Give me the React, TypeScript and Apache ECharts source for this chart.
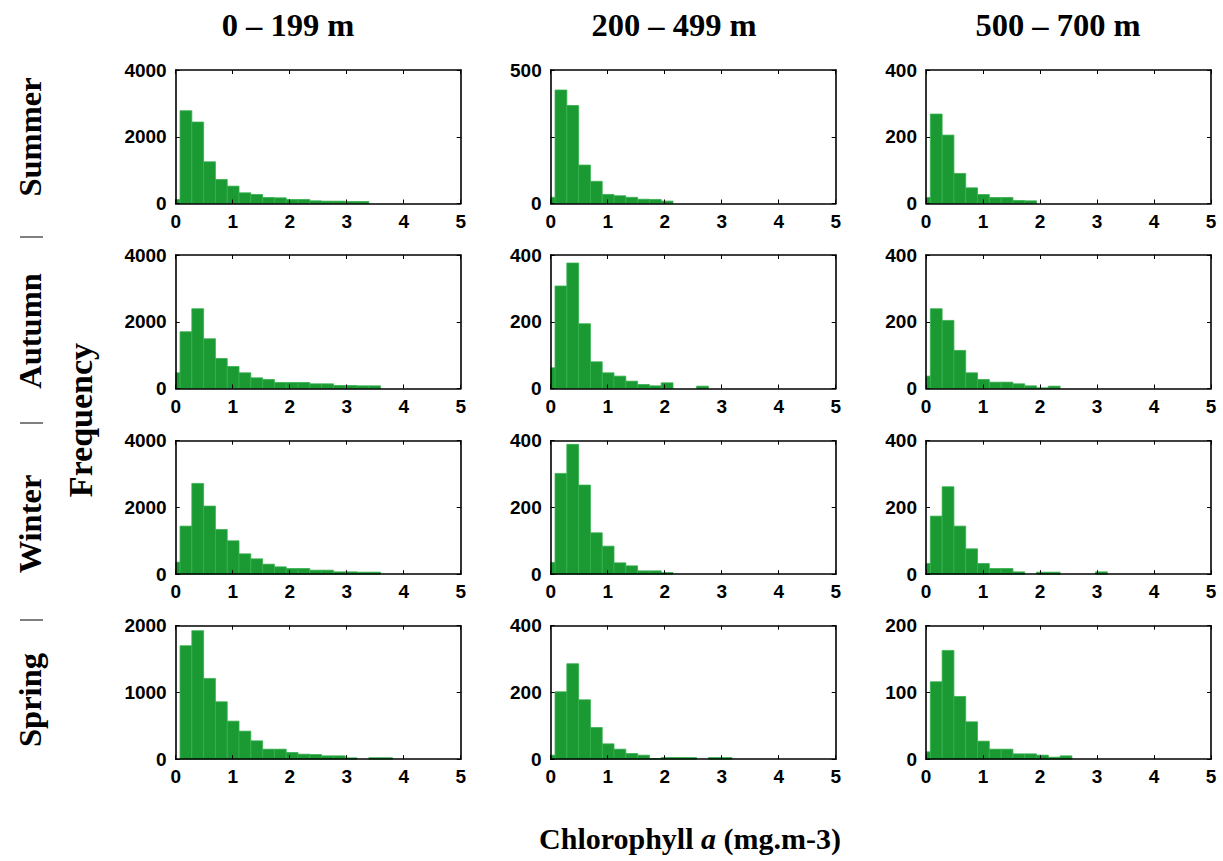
import React, { useEffect, useRef } from "react";
import * as echarts from "echarts";

// ---------- data ----------
const depthTitles = ["0 – 199 m", "200 – 499 m", "500 – 700 m"];
const seasons = ["Summer", "Autumn", "Winter", "Spring"];
const xLabel = "Chlorophyll a (mg.m-3)";
const yLabel = "Frequency";

// histogram bins (mg.m-3)
const binWidth = 0.207;
const firstEdge = -0.131;
const xTicks = [0, 1, 2, 3, 4, 5];

// y-axis max per panel [row][col]
const yMax = [
  [4000, 500, 400],
  [4000, 400, 400],
  [4000, 400, 400],
  [2000, 400, 200],
];
// y tick labels shown per panel
const yTickLabels = [
  [[0, 2000, 4000], [0, 500], [0, 200, 400]],
  [[0, 2000, 4000], [0, 200, 400], [0, 200, 400]],
  [[0, 2000, 4000], [0, 200, 400], [0, 200, 400]],
  [[0, 1000, 2000], [0, 200, 400], [0, 100, 200]],
];

// counts per bin
const summer0 = [120, 2780, 2440, 1250, 720, 520, 320, 270, 180, 170, 120, 120, 80, 70, 70, 60, 60];
const summer1 = [23, 425, 367, 144, 83, 34, 29, 23, 16, 15, 9];
const summer2 = [18, 268, 205, 90, 47, 27, 18, 18, 9, 8];
const autumn0 = [470, 1700, 2390, 1490, 900, 660, 470, 320, 270, 180, 180, 180, 140, 140, 90, 90, 80, 80];
const autumn1 = [62, 307, 376, 194, 80, 47, 37, 22, 12, 8, 17, 0, 0, 7];
const autumn2 = [37, 239, 204, 114, 47, 27, 19, 19, 14, 8, 2, 7];
const winter0 = [360, 1440, 2720, 2040, 1340, 1000, 610, 460, 300, 220, 170, 170, 120, 120, 70, 70, 60, 60];
const winter1 = [35, 302, 389, 267, 124, 84, 34, 25, 10, 10, 5];
const winter2 = [32, 174, 262, 144, 76, 32, 17, 17, 7, 0, 6, 6, 0, 0, 0, 7];
const spring0 = [0, 1700, 1925, 1210, 860, 570, 420, 275, 150, 150, 100, 75, 70, 50, 50, 20, 0, 22, 22];
const spring1 = [12, 202, 286, 178, 95, 46, 30, 17, 12, 2, 5, 5, 5, 0, 5, 5];
const spring2 = [11, 116, 163, 94, 56, 27, 15, 15, 8, 8, 6, 3, 5];

const panelCounts = [
  [summer0, summer1, summer2],
  [autumn0, autumn1, autumn2],
  [winter0, winter1, winter2],
  [spring0, spring1, spring2],
];

// ---------- layout ----------
const colLefts = [175.7, 550.7, 926];
const rowTops = [70, 255, 440.7, 625.7];
const plotW = 285;
const plotH = 133.5;

const BAR_FILL = "#1b9a34";
const BAR_EDGE = "#35b04c";
const tickFont = { fontFamily: "Liberation Sans", fontWeight: "bold" as const, fontSize: 19, color: "#000" };

export default function App() {
  const ref = useRef<HTMLDivElement>(null);
  useEffect(() => {
    if (!ref.current) return;
    const chart = echarts.init(ref.current, undefined, { renderer: "svg" });
    const grid: any[] = [];
    const xAxis: any[] = [];
    const yAxis: any[] = [];
    const series: any[] = [];
    let g = 0;
    for (let r = 0; r < 4; r++) {
      for (let c = 0; c < 3; c++) {
        grid.push({ left: colLefts[c], top: rowTops[r], width: plotW, height: plotH, containLabel: false });
        const ym = yMax[r][c];
        const shown = yTickLabels[r][c];
        const axisLine = { show: true, onZero: false, lineStyle: { color: "#000", width: 1.6 } };
        const axisTick = { show: true, inside: true, length: 4, lineStyle: { color: "#000", width: 1 } };
        // bottom
        xAxis.push({
          gridIndex: g, type: "value", position: "bottom", min: xTicks[0], max: xTicks[xTicks.length - 1], interval: 1,
          axisLine, axisTick, splitLine: { show: false }, z: 5,
          axisLabel: { ...tickFont, margin: 8 },
        });
        // top
        xAxis.push({
          gridIndex: g, type: "value", position: "top", min: xTicks[0], max: xTicks[xTicks.length - 1], interval: 1,
          axisLine, axisTick, splitLine: { show: false }, axisLabel: { show: false }, z: 5,
        });
        yAxis.push({
          gridIndex: g, type: "value", position: "left", min: 0, max: ym, interval: ym / 2,
          axisLine, axisTick, splitLine: { show: false }, z: 5,
          axisLabel: {
            ...tickFont, margin: 9,
            formatter: (v: number) => (shown.indexOf(v) >= 0 ? String(v) : ""),
          },
        });
        yAxis.push({
          gridIndex: g, type: "value", position: "right", min: 0, max: ym, interval: ym / 2,
          axisLine, axisTick, splitLine: { show: false }, axisLabel: { show: false }, z: 5,
        });
        const data = panelCounts[r][c].map((cnt, i) => [
          firstEdge + i * binWidth,
          firstEdge + (i + 1) * binWidth,
          cnt,
        ]);
        series.push({
          type: "custom",
          xAxisIndex: 2 * g,
          yAxisIndex: 2 * g,
          data,
          encode: { x: [0, 1], y: 2 },
          renderItem: (params: any, api: any) => {
            const x0 = Math.max(api.value(0), 0);
            const x1 = api.value(1);
            const h = api.value(2);
            if (!(h > 0)) return null;
            const p0 = api.coord([x0, 0]);
            const p1 = api.coord([x1, h]);
            return {
              type: "rect",
              shape: { x: p0[0], y: p1[1], width: p1[0] - p0[0], height: p0[1] - p1[1] },
              style: { fill: BAR_FILL, stroke: BAR_EDGE, lineWidth: 0.8 },
            };
          },
        });
        g++;
      }
    }

    const serif = '"Liberation Serif", "Times New Roman", serif';
    const graphic: any[] = [];
    const titleX = [288, 674, 1058];
    depthTitles.forEach((t, i) => {
      graphic.push({
        type: "text", x: titleX[i], y: 25,
        style: { text: t, font: `bold 32.5px ${serif}`, fill: "#000", textAlign: "center", textVerticalAlign: "middle" },
      });
    });
    const seasonY = [137, 331, 524, 700];
    seasons.forEach((s, i) => {
      graphic.push({
        type: "text", x: 30, y: seasonY[i], rotation: Math.PI / 2,
        style: { text: s, font: `bold 32.5px ${serif}`, fill: "#000", textAlign: "center", textVerticalAlign: "middle" },
      });
    });
    [237, 423, 620].forEach((y) => {
      graphic.push({ type: "line", shape: { x1: 20, y1: y, x2: 43, y2: y }, style: { stroke: "#000", lineWidth: 1 } });
    });
    graphic.push({
      type: "text", x: 80, y: 420, rotation: Math.PI / 2,
      style: { text: yLabel, font: `bold 34px ${serif}`, fill: "#000", textAlign: "center", textVerticalAlign: "middle" },
    });
    const parts = xLabel.split(" a ");
    graphic.push({
      type: "text", x: 690, y: 838,
      style: {
        text: `{b|${parts[0]} }{i|a}{b| ${parts[1]}}`,
        rich: {
          b: { font: `bold 30px ${serif}`, fill: "#000" },
          i: { font: `italic bold 30px ${serif}`, fill: "#000" },
        },
        textAlign: "center", textVerticalAlign: "middle",
      },
    });

    chart.setOption({
      animation: false,
      backgroundColor: "#fff",
      grid, xAxis, yAxis, series, graphic,
    });
    return () => chart.dispose();
  }, []);
  return (
    <div
      ref={ref}
      style={{ position: "fixed", left: 0, top: 0, width: 1223, height: 861, background: "#fff" }}
    />
  );
}
